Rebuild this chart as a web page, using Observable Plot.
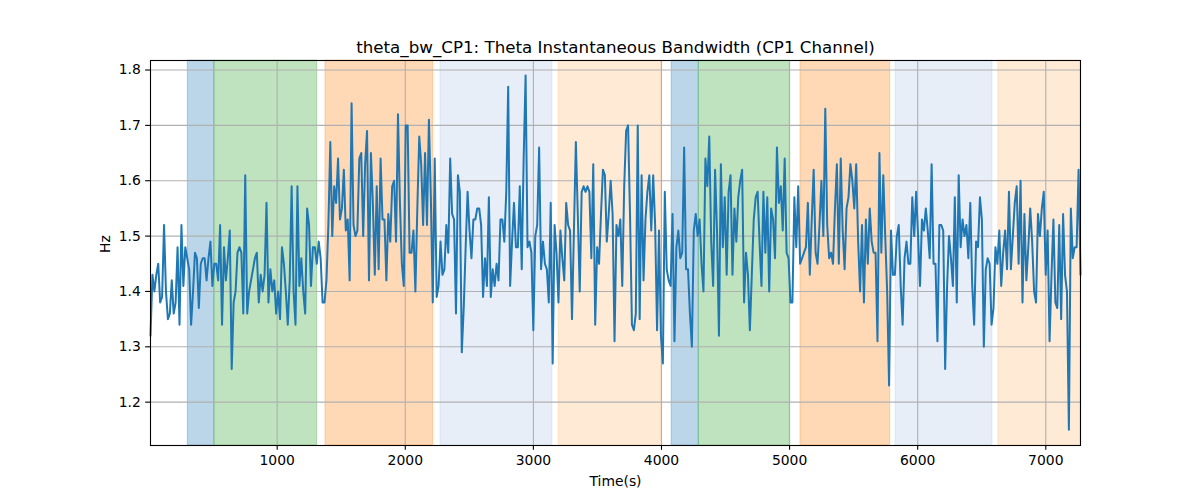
<!DOCTYPE html>
<html><head><meta charset="utf-8">
<script src="https://cdn.jsdelivr.net/npm/d3@7"></script>
<script src="https://cdn.jsdelivr.net/npm/@observablehq/plot@0.6"></script>
<style>body{margin:0;background:#fff;}</style>
</head><body><div id="chart"></div>
<script>
const title = "theta_bw_CP1: Theta Instantaneous Bandwidth (CP1 Channel)";
const xLabel = "Time(s)";
const yLabel = "Hz";
const tStart = 11, tEnd = 7271;
const xTicks = [1000, 2000, 3000, 4000, 5000, 6000, 7000];
const yTicks = [1.2, 1.3, 1.4, 1.5, 1.6, 1.7, 1.8];

const spanStart = [302, 510, 1377, 2275, 3197, 4079, 4291, 5085, 5827, 6630];
const spanEnd   = [510, 1312, 2218, 3149, 3998, 4291, 5002, 5785, 6584, 7271];
const spanColor = ["#1f77b4", "#2ca02c", "#ff7f0e", "#aec7e8", "#ffbb78",
                   "#1f77b4", "#2ca02c", "#ff7f0e", "#aec7e8", "#ffbb78"];

const bw = [
1.32,1.43,1.40,1.43,1.45,1.38,1.39,1.52,1.40,1.35,
1.36,1.42,1.36,1.38,1.48,1.34,1.52,1.41,1.48,1.46,
1.44,1.34,1.40,1.47,1.46,1.37,1.45,1.46,1.46,1.42,
1.46,1.49,1.41,1.45,1.45,1.42,1.52,1.34,1.48,1.42,
1.46,1.51,1.26,1.38,1.40,1.47,1.48,1.47,1.36,1.61,
1.36,1.40,1.42,1.44,1.46,1.47,1.38,1.43,1.40,1.43,
1.56,1.38,1.44,1.40,1.42,1.36,1.40,1.35,1.48,1.45,
1.40,1.34,1.42,1.59,1.40,1.34,1.59,1.41,1.46,1.40,
1.36,
1.55,1.52,1.41,1.48,1.48,1.45,1.49,1.46,1.38,1.38,
1.42,1.52,1.67,1.50,1.59,1.56,1.64,1.53,1.55,1.62,
1.51,1.53,1.42,1.74,1.52,1.50,1.51,1.64,1.65,1.50,
1.63,1.69,1.42,1.65,1.56,1.43,1.59,1.44,1.64,1.53,
1.53,1.42,1.54,1.49,1.59,1.60,1.49,1.72,1.56,1.45,
1.41,1.70,1.70,1.47,1.47,1.51,1.40,1.55,1.68,1.63,
1.52,1.65,1.52,1.71,1.57,1.38,1.64,1.39,1.41,1.49,
1.43,1.44,1.52,1.47,1.64,1.54,1.53,
1.36,1.61,1.58,1.29,1.37,1.48,1.58,1.51,1.46,1.53,
1.53,1.55,1.55,1.52,1.39,1.46,1.41,1.57,1.39,1.44,
1.41,1.45,1.42,1.53,1.53,1.49,1.58,1.77,1.41,1.49,
1.56,1.48,1.48,1.59,1.44,1.64,1.79,1.48,1.49,1.47,
1.33,1.50,1.52,1.66,1.44,1.49,1.45,1.44,1.38,1.56,
1.27,1.52,1.47,1.38,1.51,1.46,1.42,1.56,1.52,1.51,
1.35,1.51,1.67,1.54,1.40,1.58,1.59,1.58,1.59,1.58,
1.46,1.63,1.34,1.48,1.45,1.54,1.62,1.61,1.49,
1.54,1.60,1.54,1.31,1.52,1.50,1.53,1.41,1.59,1.69,
1.70,1.54,1.34,1.33,1.36,1.70,1.35,1.61,1.42,1.53,
1.58,1.61,1.51,1.61,1.52,1.33,1.51,1.32,1.27,1.58,
1.44,1.42,1.41,1.54,1.31,1.48,1.51,1.46,1.47,1.66,
1.44,1.44,1.36,1.30,1.51,1.54,1.50,1.53,1.45,1.40,
1.64,1.59,1.68,1.49,1.41,1.62,1.51,1.32,1.63,1.48,
1.57,1.43,1.58,1.61,1.43,1.55,1.49,1.57,1.60,1.62,
1.38,1.47,1.43,1.33,1.43,1.53,1.57,1.58,1.49,1.41,
1.58,1.47,1.57,1.40,1.55,1.53,1.46,1.66,1.56,1.59,
1.51,1.64,1.47,1.46,1.38,1.38,1.57,1.48,1.59,1.45,
1.46,1.47,1.48,1.56,1.43,1.53,1.62,1.47,1.45,1.52,
1.60,1.50,1.73,1.52,1.46,1.47,1.45,1.55,1.63,1.45,
1.64,1.51,1.44,1.55,1.57,1.63,1.60,1.55,1.63,1.49,
1.40,1.52,1.38,1.53,1.45,1.55,1.49,1.47,1.47,1.31,
1.65,1.47,1.61,1.50,1.40,1.23,1.51,1.43,1.43,1.50,
1.52,1.41,1.34,1.46,1.49,1.45,1.45,1.57,1.50,1.58,
1.50,
1.41,1.53,1.51,1.55,1.51,1.46,1.63,1.45,1.45,1.31,
1.52,1.52,1.51,1.26,1.41,1.50,1.46,1.41,1.57,1.38,
1.61,1.48,1.53,1.50,1.52,1.46,1.56,1.41,1.34,1.49,
1.48,1.57,1.53,1.30,1.44,1.46,1.45,1.34,1.37,1.48,
1.45,1.51,1.41,1.47,1.51,1.44,1.58,1.44,1.50,1.56,
1.59,1.45,1.60,1.38,1.54,1.42,1.48,1.55,1.49,1.40,
1.38,1.54,1.50,1.55,1.58,1.43,1.51,1.31,1.43,1.53,
1.38,1.37,1.52,1.35,1.54,1.43,1.40,1.15,1.55,1.46,
1.48,1.48,1.62,1.43
];

const series = bw.map((v, i) => ({t: tStart + i * (tEnd - tStart) / (bw.length - 1), v}));
const spans = spanStart.map((s, i) => ({s, e: spanEnd[i], c: spanColor[i]}));

const chart = Plot.plot({
  width: 1200, height: 500,
  marginLeft: 150, marginRight: 120, marginTop: 60, marginBottom: 55,
  style: {fontFamily: "'DejaVu Sans', sans-serif", fontSize: "13.9px", color: "black", background: "white"},
  x: {domain: [tStart, tEnd]},
  y: {domain: [1.1217, 1.8172]},
  color: {type: "identity"},
  marks: [
    Plot.rect(spans, {x1: "s", x2: "e", fill: "c", fillOpacity: 0.3, stroke: "c", strokeOpacity: 0.3, strokeWidth: 1}),
    Plot.gridX(xTicks, {stroke: "#b0b0b0", strokeOpacity: 1, strokeWidth: 1.1}),
    Plot.gridY(yTicks, {stroke: "#b0b0b0", strokeOpacity: 1, strokeWidth: 1.1}),
    Plot.line(series, {x: "t", y: "v", stroke: "#1f77b4", strokeWidth: 2}),
    Plot.frame({stroke: "black", strokeWidth: 1.1}),
    Plot.axisX(xTicks, {anchor: "bottom", tickSize: 4.86, tickPadding: 4.86, strokeWidth: 1.1, label: null, tickFormat: d => String(d)}),
    Plot.axisY(yTicks, {anchor: "left", tickSize: 4.86, tickPadding: 4.86, strokeWidth: 1.1, label: null, tickFormat: d => d.toFixed(1)}),
    Plot.text([title], {frameAnchor: "top", dy: -8, lineAnchor: "bottom", fontSize: 16.7}),
    Plot.text([xLabel], {frameAnchor: "bottom", dy: 36, lineAnchor: "middle"}),
    Plot.text([yLabel], {frameAnchor: "left", dx: -45, rotate: -90, lineAnchor: "middle"})
  ]
});
document.getElementById("chart").append(chart);
</script>
</body></html>
